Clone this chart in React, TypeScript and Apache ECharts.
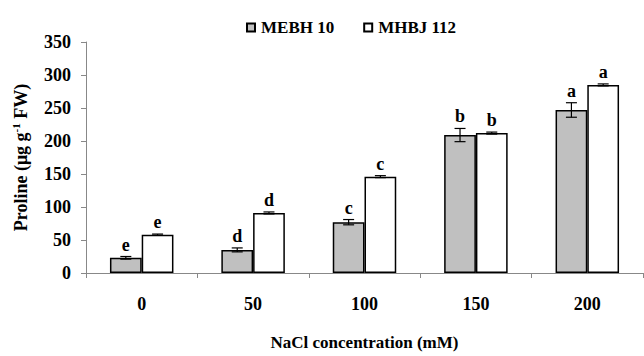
import React, { useEffect, useRef } from "react";
import * as echarts from "echarts";

const categories = ["0", "50", "100", "150", "200"];
const seriesNames = ["MEBH 10", "MHBJ 112"];
const mebhValues = [23, 35, 77, 209, 247];
const mebhErrors = [2, 3, 4, 10, 11];
const mebhLetters = ["e", "d", "c", "b", "a"];
const mhbjValues = [58, 91, 146, 212, 285];
const mhbjErrors = [1, 1.5, 1.5, 1.5, 1.5];
const mhbjLetters = ["e", "d", "c", "b", "a"];
const yTicks = [0, 50, 100, 150, 200, 250, 300, 350];

const FONT = "Liberation Serif";
const GAP = 0.43;

function makeErr(values: number[], errs: number[], letters: string[], side: number) {
  return {
    type: "custom",
    z: 10,
    silent: true,
    data: values.map((v, i) => [i, v, errs[i]]),
    renderItem: (params: any, api: any) => {
      const idx = api.value(0);
      const v = api.value(1);
      const e = api.value(2);
      const letter = letters[params.dataIndex];
      const bw = api.size([1, 0])[0];
      const barW = (bw * (1 - GAP)) / 2;
      const c = api.coord([idx, v]);
      const cx = c[0] + side * barW / 2;
      const top = api.coord([idx, v + e])[1];
      const bot = api.coord([idx, v - e])[1];
      const hw = 5.5;
      const ls = { stroke: "#000", lineWidth: 1.2 };
      return {
        type: "group",
        children: [
          { type: "line", shape: { x1: cx, y1: top, x2: cx, y2: bot }, style: ls },
          { type: "line", shape: { x1: cx - hw, y1: top, x2: cx + hw, y2: top }, style: ls },
          { type: "line", shape: { x1: cx - hw, y1: bot, x2: cx + hw, y2: bot }, style: ls },
          {
            type: "text",
            x: cx,
            y: top - 3,
            style: {
              text: letter,
              fill: "#000",
              fontFamily: FONT,
              fontWeight: "bold",
              fontSize: 18,
              align: "center",
              verticalAlign: "bottom",
            },
          },
        ],
      };
    },
  };
}

export default function App() {
  const ref = useRef<HTMLDivElement>(null);
  useEffect(() => {
    const chart = echarts.init(ref.current!, null, { renderer: "svg" });
    chart.setOption({
      animation: false,
      backgroundColor: "#fff",
      textStyle: { fontFamily: FONT },
      legend: {
        top: 14,
        left: 241,
        itemWidth: 8,
        itemHeight: 8,
        itemGap: 29,
        icon: "rect",
        data: seriesNames,
        textStyle: { fontFamily: FONT, fontWeight: "bold", fontSize: 17, color: "#000", padding: [0, 0, 0, 1] },
      },
      grid: { left: 86, right: 1, top: 42, bottom: 79, containLabel: false },
      xAxis: {
        type: "category",
        data: categories,
        name: "NaCl concentration (mM)",
        nameLocation: "middle",
        nameGap: 61,
        nameTextStyle: { fontFamily: FONT, fontWeight: "bold", fontSize: 17, color: "#000", verticalAlign: "top" },
        axisLine: { lineStyle: { color: "#888", width: 1 } },
        axisTick: { show: true, length: 5, lineStyle: { color: "#888" } },
        axisLabel: { margin: 22, fontFamily: FONT, fontWeight: "bold", fontSize: 18, color: "#000" },
      },
      yAxis: {
        type: "value",
        min: 0,
        max: 350,
        interval: 50,
        name: "{n|Proline (μg g}{s|-1}{n| FW)}",
        nameLocation: "middle",
        nameGap: 55,
        nameRotate: 90,
        nameTextStyle: {
          rich: {
            n: { fontFamily: FONT, fontWeight: "bold", fontSize: 18, color: "#000" },
            s: { fontFamily: FONT, fontWeight: "bold", fontSize: 11, color: "#000", padding: [0, 0, 10, 0] },
          },
        },
        axisLine: { show: true, lineStyle: { color: "#888", width: 1 } },
        axisTick: { show: true, length: 5, lineStyle: { color: "#888" } },
        splitLine: { show: false },
        axisLabel: {
          margin: 15,
          fontFamily: FONT,
          fontWeight: "bold",
          fontSize: 18,
          color: "#000",
          formatter: (v: number) => (yTicks.includes(v) ? String(v) : ""),
        },
      },
      series: [
        {
          name: seriesNames[0],
          type: "bar",
          data: mebhValues,
          barGap: "0%",
          barCategoryGap: "43%",
          itemStyle: { color: "#c0c0c0", borderColor: "#000", borderWidth: 1.5 },
        },
        {
          name: seriesNames[1],
          type: "bar",
          data: mhbjValues,
          barGap: "0%",
          barCategoryGap: "43%",
          itemStyle: { color: "#fff", borderColor: "#000", borderWidth: 1.5 },
        },
        makeErr(mebhValues, mebhErrors, mebhLetters, -1),
        makeErr(mhbjValues, mhbjErrors, mhbjLetters, 1),
      ],
    });
    return () => chart.dispose();
  }, []);
  return <div ref={ref} style={{ width: 644, height: 356, position: "absolute", left: 0, top: 0 }} />;
}
